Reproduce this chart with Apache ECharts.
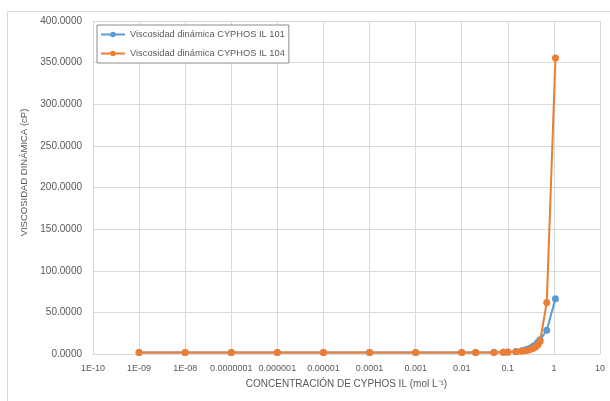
<!DOCTYPE html>
<html>
<head>
<meta charset="utf-8">
<script src="https://cdn.jsdelivr.net/npm/echarts@6/dist/echarts.min.js"></script>
<style>
  html, body { margin: 0; padding: 0; background: #fff; }
  #chart { width: 610px; height: 401px; }
</style>
</head>
<body>
<div id="chart"></div>
<script>
// Concentration of CYPHOS IL (mol/L) at each measurement
const concentration = [1e-9, 1e-8, 1e-7, 1e-6, 1e-5, 1e-4, 1e-3, 0.01, 0.02, 0.05, 0.08, 0.1,
                       0.15, 0.2, 0.25, 0.3, 0.35, 0.4, 0.45, 0.5, 0.7, 1.08];
// Dynamic viscosity (cP)
const viscosity101 = [1.8, 1.8, 1.8, 1.8, 1.8, 1.8, 1.8, 1.8, 1.9, 2.0, 2.2, 2.4,
                      3.0, 4.0, 5.5, 7.0, 9.0, 11.0, 14.0, 17.0, 28.5, 66.5];
const viscosity104 = [1.7, 1.7, 1.7, 1.7, 1.7, 1.7, 1.7, 1.7, 1.8, 1.9, 2.1, 2.2,
                      2.6, 3.2, 4.0, 5.0, 6.5, 8.5, 11.0, 15.0, 62.0, 355.5];
const seriesNames = ['Viscosidad dinámica CYPHOS IL 101', 'Viscosidad dinámica CYPHOS IL 104'];
// Decade ticks of the concentration axis and their labels
const xTickValues = [1e-10, 1e-9, 1e-8, 1e-7, 1e-6, 1e-5, 1e-4, 1e-3, 0.01, 0.1, 1, 10];
const xTickLabels = ['1E-10', '1E-09', '1E-08', '0.0000001', '0.000001', '0.00001',
                     '0.0001', '0.001', '0.01', '0.1', '1', '10'];

const pairs = ys => concentration.map((c, i) => [c, ys[i]]);
const font = 'Liberation Sans';
const textGray = '#595959';
const gridGray = '#d9d9d9';

function decadeLabel(v) {
  const k = Math.round(Math.log10(v)) + 10;
  return xTickLabels[k] !== undefined ? xTickLabels[k] : '';
}

const chart = echarts.init(document.getElementById('chart'), null, { renderer: 'canvas' });
chart.setOption({
  animation: false,
  backgroundColor: '#fff',
  textStyle: { fontFamily: font },
  graphic: [{
    type: 'rect',
    shape: { x: 7.5, y: 11.5, width: 610, height: 400 },
    style: { fill: 'none', stroke: gridGray, lineWidth: 1 },
    silent: true, z: -10
  }],
  grid: { left: 93, right: 10, top: 21, bottom: 47, containLabel: false },
  legend: {
    orient: 'vertical',
    left: 97, top: 25,
    padding: [5, 4, 5, 3],
    itemGap: 10,
    itemWidth: 24, itemHeight: 7,
    backgroundColor: '#fff',
    borderColor: '#8c8c8c', borderWidth: 1,
    textStyle: { fontFamily: font, fontSize: 9.3, color: textGray },
    data: seriesNames
  },
  xAxis: {
    type: 'log', logBase: 10, min: 1e-10, max: 10,
    name: 'CONCENTRACIÓN DE CYPHOS IL (mol L⁻¹)',
    nameLocation: 'middle', nameGap: 25,
    nameTextStyle: { fontFamily: font, fontSize: 10, color: textGray },
    axisLine: { show: true, lineStyle: { color: gridGray } },
    axisTick: { show: false, customValues: xTickValues },
    splitLine: { show: true, lineStyle: { color: gridGray, width: 1 } },
    minorTick: { show: false },
    axisLabel: {
      fontFamily: font, fontSize: 9, color: textGray, margin: 10,
      customValues: xTickValues,
      hideOverlap: false, showMinLabel: true, showMaxLabel: true,
      formatter: decadeLabel
    }
  },
  yAxis: {
    type: 'value', min: 0, max: 400, interval: 50,
    name: 'VISCOSIDAD DINÁMICA (cP)',
    nameLocation: 'middle', nameGap: 58, nameRotate: 90,
    nameTextStyle: { fontFamily: font, fontSize: 9.5, color: textGray, padding: [0, 0, 0, 30] },
    axisLine: { show: false },
    axisTick: { show: false },
    splitLine: { show: true, lineStyle: { color: gridGray, width: 1 } },
    axisLabel: {
      fontFamily: font, fontSize: 10, color: textGray, margin: 11,
      formatter: v => v.toFixed(4)
    }
  },
  series: [
    {
      name: seriesNames[0], type: 'line', data: pairs(viscosity101),
      symbol: 'circle', symbolSize: 7,
      lineStyle: { width: 2, color: '#5B9BD5' },
      itemStyle: { color: '#5B9BD5' }, z: 2
    },
    {
      name: seriesNames[1], type: 'line', data: pairs(viscosity104),
      symbol: 'circle', symbolSize: 7,
      lineStyle: { width: 2, color: '#ED7D31' },
      itemStyle: { color: '#ED7D31' }, z: 3
    }
  ]
});
</script>
</body>
</html>
